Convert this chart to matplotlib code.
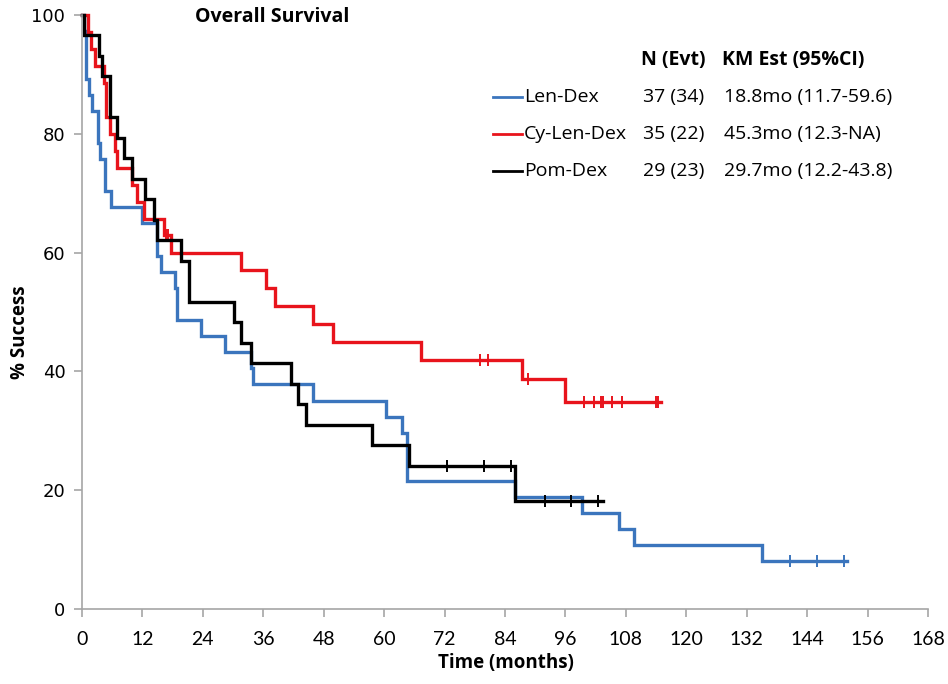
import numpy as np
import matplotlib
matplotlib.use("Agg")
import matplotlib.pyplot as plt
from matplotlib.lines import Line2D

# ---------------- data ----------------
series_names = ["Len-Dex", "Cy-Len-Dex", "Pom-Dex"]
n_evt = ["37 (34)", "35 (22)", "29 (23)"]
km_est = ["18.8mo (11.7-59.6)", "45.3mo (12.3-NA)", "29.7mo (12.2-43.8)"]

len_t = [0, 0.3, 0.8, 1.3, 1.9, 3.1, 3.6, 4.6, 5.8, 11.9, 14.8, 15.6, 18.5, 18.8,
         23.6, 28.4, 33.6, 34.0, 45.9, 60.3, 63.5, 64.5, 85.9, 99.3, 106.7, 109.7, 135.1]
len_s = [100, 97.3, 89.2, 86.5, 83.8, 78.4, 75.7, 70.3, 67.6, 64.9, 59.5, 56.8, 54.1, 48.6,
         45.9, 43.2, 40.5, 37.8, 35.1, 32.4, 29.7, 21.6, 18.9, 16.2, 13.5, 10.8, 8.1]
len_cens = [140.5, 146.0, 151.3]
len_end = 152.0

cy_t = [0, 1.2, 1.7, 2.5, 4.4, 4.8, 5.6, 6.6, 6.9, 9.9, 10.9, 12.3, 16.3, 17.6,
        31.6, 36.6, 38.4, 45.9, 49.8, 67.3, 87.3, 95.9]
cy_s = [100, 97.1, 94.3, 91.4, 88.6, 82.9, 80.0, 77.1, 74.3, 71.4, 68.6, 65.7, 62.9, 60.0,
        57.0, 54.0, 51.0, 48.0, 45.0, 42.0, 38.8, 34.8]
cy_cens = [16.7, 17.1, 79.1, 80.7, 88.6, 99.7, 101.7, 103.1, 103.5, 105.3, 107.3, 113.9, 114.3]
cy_end = 115.0

pom_t = [0, 0.3, 3.4, 3.9, 5.5, 6.9, 8.3, 9.9, 12.5, 14.3, 14.9, 19.6, 21.3, 30.1,
         31.6, 33.5, 41.5, 42.9, 44.4, 57.5, 64.9, 85.9]
pom_s = [100, 96.6, 93.1, 89.7, 82.8, 79.3, 75.9, 72.4, 69.0, 65.5, 62.1, 58.6, 51.7, 48.3,
         44.8, 41.4, 37.9, 34.5, 31.0, 27.6, 24.1, 18.1]
pom_cens = [72.5, 79.8, 85.1, 91.9, 97.1, 102.5]
pom_end = 103.5

x_ticks = list(range(0, 169, 12))
y_ticks = [0, 20, 40, 60, 80, 100]

colors = ["#3b75bd", "#e8141c", "#000000"]

# ---------------- figure ----------------
W, H = 948, 684
fig = plt.figure(figsize=(W / 100, H / 100), dpi=100)
ax = fig.add_axes([82 / W, 1 - 609 / H, (928 - 82) / W, (609 - 15) / H])

curves = [(len_t, len_s, len_cens, len_end),
          (cy_t, cy_s, cy_cens, cy_end),
          (pom_t, pom_s, pom_cens, pom_end)]

for (t, s, cens, end), c in zip(curves, colors):
    tt = list(t) + [end]
    ss = list(s) + [s[-1]]
    ax.step(tt, ss, where="post", color=c, lw=2.4, clip_on=False, solid_joinstyle="miter")
    idx = np.searchsorted(t, cens, side="right") - 1
    cy = np.asarray(s)[idx]
    ax.plot(cens, cy, ls="none", marker="|", ms=9, mew=1.4, color=c, clip_on=False)

ax.set_xlim(0, 168)
ax.set_ylim(0, 100)
ax.set_xticks(x_ticks)
ax.set_yticks(y_ticks)

for sp in ["top", "right"]:
    ax.spines[sp].set_visible(False)
for sp in ["left", "bottom"]:
    ax.spines[sp].set_color("#a6a6a6")
    ax.spines[sp].set_linewidth(1.2)
ax.tick_params(axis="both", direction="out", length=6, width=1.2, color="#a6a6a6")
ax.tick_params(axis="y", pad=6)
ax.tick_params(axis="x", pad=10)
ax.set_xticklabels([str(v) for v in x_ticks], family="Lato", fontsize=14)
ax.set_yticklabels([str(v) for v in y_ticks], family="DejaVu Sans", fontsize=13)

lab_font = ["Open Sans"]
ax.set_xlabel("Time (months)", family=lab_font, fontweight="bold", fontsize=13.5)
ax.xaxis.set_label_coords((506 - 82) / 846, -(663 - 609) / 594)
ax.xaxis.label.set_va("center")
ax.set_ylabel("% Success", family=lab_font, fontweight="bold", fontsize=13.5)
ax.yaxis.set_label_coords((20 - 82) / 846, (609 - 332) / 594)
ax.yaxis.label.set_va("center")

fig.text(272 / W, 1 - 17 / H, "Overall Survival", ha="center", va="center",
         family=lab_font, fontweight="bold", fontsize=14)

# ---------------- legend table ----------------
leg_font = ["Open Sans"]
fig.text(641 / W, 1 - 60 / H, "N (Evt)", ha="left", va="center", family=leg_font,
         fontweight="bold", fontsize=14)
fig.text(722 / W, 1 - 60 / H, "KM Est (95%CI)", ha="left", va="center", family=leg_font,
         fontweight="bold", fontsize=14)
row_y = [97, 134, 171]
for name, ne, km, c, yy in zip(series_names, n_evt, km_est, colors, row_y):
    fig.add_artist(Line2D([493 / W, 522 / W], [1 - yy / H, 1 - yy / H], color=c, lw=2.0,
                          transform=fig.transFigure))
    fig.text(524 / W, 1 - yy / H, name, ha="left", va="center", family=leg_font, fontsize=14)
    fig.text(643 / W, 1 - yy / H, ne, ha="left", va="center", family=leg_font, fontsize=14)
    fig.text(724 / W, 1 - yy / H, km, ha="left", va="center", family=leg_font, fontsize=14)

fig.savefig("out.png", dpi=100)
